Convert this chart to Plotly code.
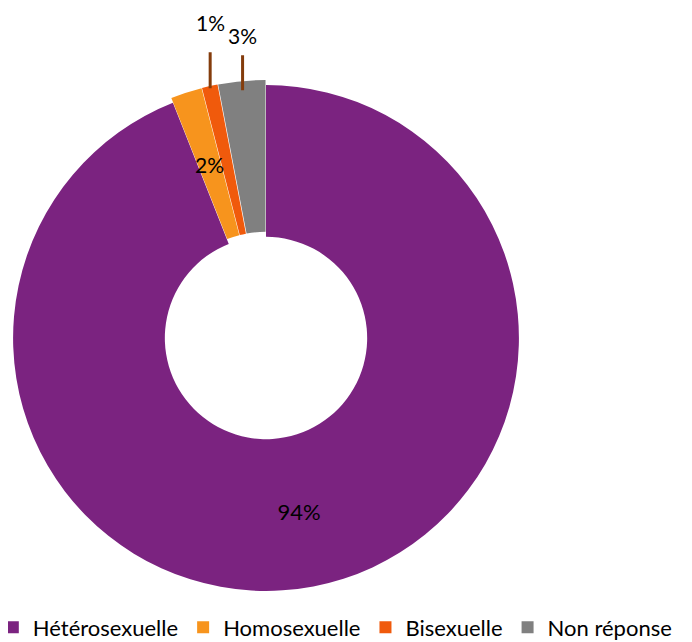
import math
import plotly.graph_objects as go

categories = ['Hétérosexuelle', 'Homosexuelle', 'Bisexuelle', 'Non réponse']
values = [94, 2, 1, 3]
pct_labels = ['94%', '2%', '1%', '3%']
colors = ['#7B2380', '#F7941D', '#F05A0C', '#808080']

# page body has an 8px margin, so the figure is a bit smaller than the window
W, H = 684, 634
dom_x = [0, 0.7544]
dom_y = [0.0726, 0.8864]
pull = 0.02
hole = 0.4

fig = go.Figure(go.Pie(
    labels=categories,
    values=values,
    marker=dict(colors=colors, line=dict(width=0)),
    hole=hole,
    sort=False,
    direction='clockwise',
    rotation=0,
    pull=[0, pull, pull, pull],
    text=pct_labels,
    texttemplate=['%{text}', '', '', ''],
    textposition='inside',
    insidetextorientation='horizontal',
    textfont=dict(family='Lato', size=22, color='black'),
    domain=dict(x=dom_x, y=dom_y),
))

# geometry of the pie as plotly lays it out, used to place the small labels
cx = W * sum(dom_x) / 2
cy = H * (1 - sum(dom_y) / 2)
r = min(W * (dom_x[1] - dom_x[0]), H * (dom_y[1] - dom_y[0])) / (2 + 2 * pull)
total = sum(values)

# outside labels: (depth into slice, lift of label, gap under label) in px
leader = {2: (2, 66, 16), 3: (9, 55, 6)}
cum = 0
for i, v in enumerate(values):
    theta = 2 * math.pi * (cum + v / 2) / total
    cum += v
    if i == 0:
        continue
    off = pull * r
    if i in leader:
        rad = r + off - leader[i][0]
    else:
        rad = (hole * r + r) / 2 + off
    px_ = cx + rad * math.sin(theta)
    py_ = cy - rad * math.cos(theta)
    ann = dict(x=px_ / W, y=1 - py_ / H, xref='paper', yref='paper',
               xanchor='center', yanchor='middle',
               text=pct_labels[i], font=dict(family='Lato', size=21, color='black'))
    if i in leader:
        ann.update(showarrow=True, arrowhead=0, arrowwidth=3, arrowcolor='#843C0C',
                   ax=0, ay=-leader[i][1], standoff=0, startstandoff=leader[i][2])
    else:
        ann.update(showarrow=False)
    fig.add_annotation(**ann)

fig.update_layout(
    width=W, height=H,
    margin=dict(l=0, r=0, t=0, b=0, autoexpand=False),
    paper_bgcolor='white',
    font=dict(family='Lato', size=22, color='black'),
    legend=dict(orientation='h', x=-0.0222, xanchor='left', y=-0.01, yanchor='bottom',
                font=dict(size=22), itemwidth=30),
)

fig.write_html('out.html')
